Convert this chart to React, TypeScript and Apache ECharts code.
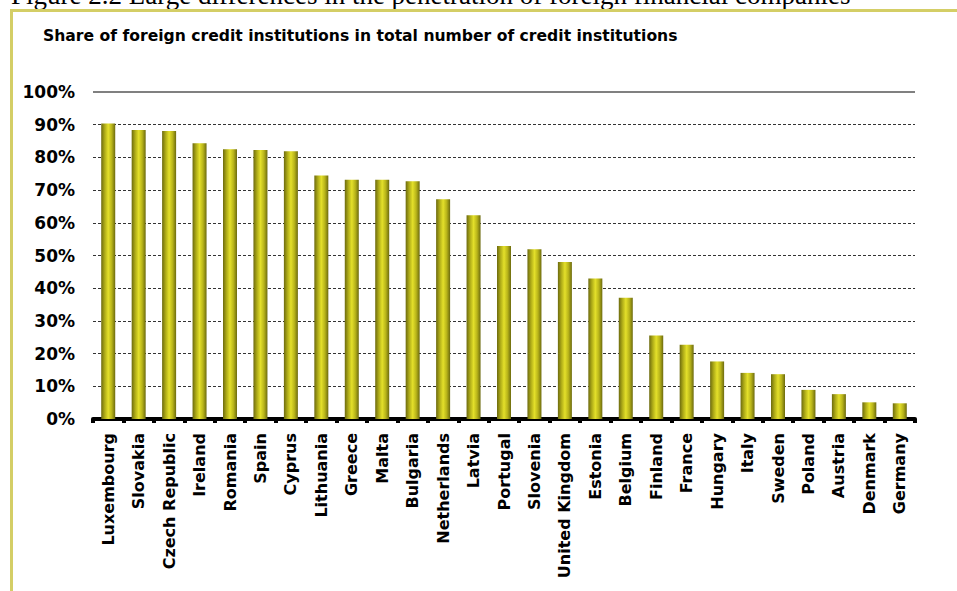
import React, { useEffect, useRef } from "react";
import * as echarts from "echarts";

// Countries, ordered by share of foreign credit institutions
const countries: string[] = [
  "Luxembourg", "Slovakia", "Czech Republic", "Ireland", "Romania", "Spain",
  "Cyprus", "Lithuania", "Greece", "Malta", "Bulgaria", "Netherlands",
  "Latvia", "Portugal", "Slovenia", "United Kingdom", "Estonia", "Belgium",
  "Finland", "France", "Hungary", "Italy", "Sweden", "Poland", "Austria",
  "Denmark", "Germany",
];

// Share of foreign credit institutions, in percent
const foreignShare: number[] = [
  90.4, 88.4, 88.1, 84.3, 82.5, 82.3,
  81.9, 74.5, 73.2, 73.2, 72.7, 67.2,
  62.3, 52.9, 51.9, 48.0, 43.0, 37.1,
  25.5, 22.7, 17.6, 14.1, 13.7, 8.9, 7.6,
  5.1, 4.8,
];

const figureCaption =
  "Figure 2.2 Large differences in the penetration of foreign financial companies";
const chartTitle =
  "Share of foreign credit institutions in total number of credit institutions";

const yMin = 0;
const yMax = 100;
const yStep = 10;

export default function App() {
  const ref = useRef<HTMLDivElement | null>(null);

  useEffect(() => {
    if (!ref.current) return;
    const chart = echarts.init(ref.current, null, { renderer: "svg" });

    const frameColor = "#d4ce66";
    const labelFont = "'DejaVu Sans', sans-serif";

    chart.setOption({
      animation: false,
      backgroundColor: "#ffffff",
      grid: { left: 93, right: 42, top: 92, bottom: 172, containLabel: false },
      graphic: [
        {
          type: "text",
          left: 11,
          top: -19,
          style: {
            text: figureCaption,
            font: "27px 'Liberation Serif', 'Times New Roman', serif",
            fill: "#000000",
          },
        },
        {
          type: "line",
          shape: { x1: 10, y1: 10.5, x2: 957, y2: 10.5 },
          style: { stroke: frameColor, lineWidth: 3 },
        },
        {
          type: "line",
          shape: { x1: 11.5, y1: 9, x2: 11.5, y2: 591 },
          style: { stroke: frameColor, lineWidth: 3 },
        },
        {
          type: "text",
          left: 43,
          top: 28,
          style: {
            text: chartTitle,
            font: "bold 15.6px 'DejaVu Sans', sans-serif",
            fill: "#000000",
          },
        },
      ],
      xAxis: {
        type: "category",
        data: countries,
        boundaryGap: true,
        axisLine: { show: true, lineStyle: { color: "#000000", width: 4 } },
        axisTick: {
          show: true,
          alignWithLabel: false,
          length: 4,
          lineStyle: { color: "#000000", width: 4 },
        },
        axisLabel: {
          rotate: 90,
          interval: 0,
          margin: 14,
          color: "#000000",
          fontFamily: labelFont,
          fontWeight: "bold",
          fontSize: 16,
        },
        splitLine: { show: false },
      },
      yAxis: {
        type: "value",
        min: yMin,
        max: yMax,
        interval: yStep,
        axisLine: { show: false },
        axisTick: { show: false },
        axisLabel: {
          margin: 18,
          color: "#000000",
          fontFamily: labelFont,
          fontWeight: "bold",
          fontSize: 17,
          formatter: (v: number) => `${v}%`,
        },
        splitLine: {
          show: true,
          lineStyle: { color: "#333333", width: 1, type: [3, 2] },
        },
      },
      series: [
        {
          type: "bar",
          data: foreignShare,
          barWidth: 14,
          itemStyle: {
            color: new echarts.graphic.LinearGradient(0, 0, 1, 0, [
              { offset: 0, color: "#6c6a0e" },
              { offset: 0.25, color: "#aeab18" },
              { offset: 0.5, color: "#e4e02a" },
              { offset: 0.75, color: "#b8b41a" },
              { offset: 1, color: "#6c6a0e" },
            ]),
          },
          markLine: {
            silent: true,
            symbol: "none",
            label: { show: false },
            lineStyle: { color: "#808080", width: 2, type: "solid" },
            data: [{ yAxis: yMax }],
          },
          z: 3,
        },
      ],
    });

    return () => chart.dispose();
  }, []);

  return (
    <div
      ref={ref}
      style={{ position: "absolute", left: 0, top: 0, width: 957, height: 591 }}
    />
  );
}
